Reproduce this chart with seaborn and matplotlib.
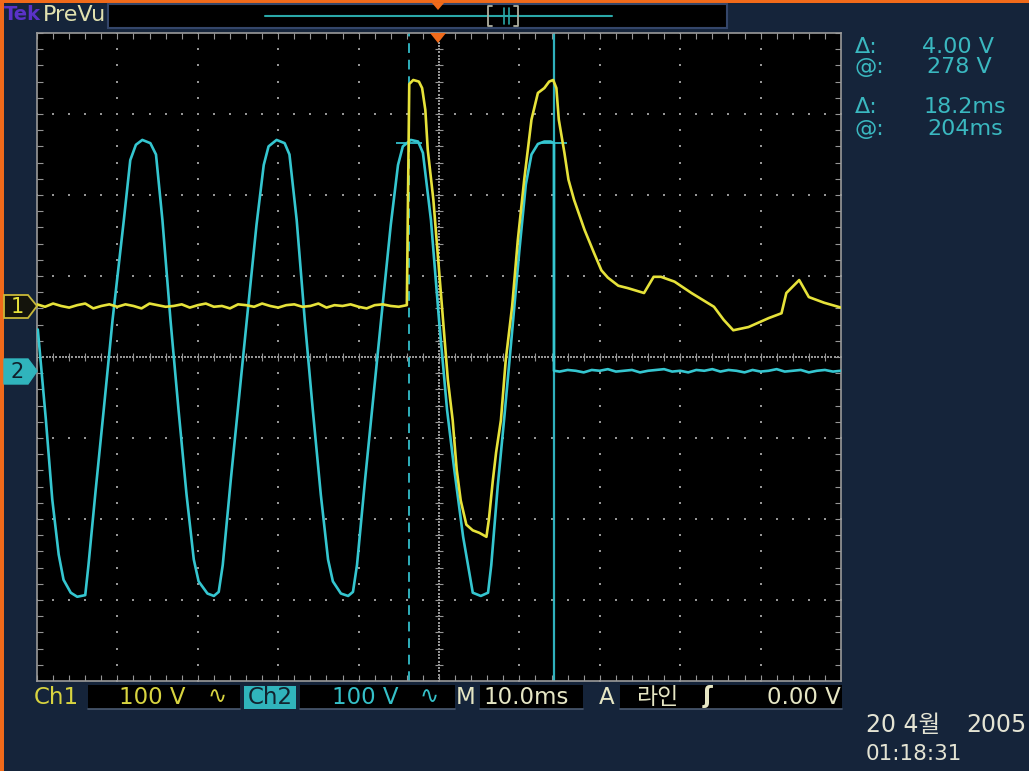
import numpy as np
import pandas as pd
import matplotlib
matplotlib.use("Agg")
import matplotlib.pyplot as plt
import seaborn as sns
from matplotlib.patches import Polygon, Rectangle

# ---------------- data (time in ms, trigger at 0; voltage in V) ----------------
ch1_flat_t = [-50, -49, -48, -47, -46, -45, -44, -43, -42, -41, -40, -39, -38, -37, -36, -35,
              -34, -33, -32, -31, -30, -29, -28, -27, -26, -25, -24, -23, -22, -21, -20, -19,
              -18, -17, -16, -15, -14, -13, -12, -11, -10, -9, -8, -7, -6, -5, -4]
ch1_flat_v = [2, -1, 3, 0, -2, 1, 3, -3, 0, 2, -1, 2, 0, -3, 3, 1, -1, 0, 2, -2, 1, 3, -1, 0,
              -3, 2, 1, -1, 3, 0, -2, 1, 2, -1, 0, 3, -2, 1, 0, 2, -1, -3, 1, 2, 0, -1, 1]
ch1_t = [-3.7, -3.2, -2.5, -2.1, -1.7, -1.4, -0.7, -0.1, 0.5, 1.1, 1.7, 2.2, 2.7, 3.4, 4.2,
         5.0, 5.9, 6.2, 6.7, 7.1, 7.7, 8.3, 9.1, 9.8, 10.6, 11.5, 12.3, 13.1, 13.7, 14.2, 14.6,
         14.9, 15.6, 16.1, 16.8, 18.1, 19.3, 20.2, 21.0, 22.3, 23.5, 25.5, 26.7, 27.6, 29.3,
         31.4, 34.2, 35.4, 36.6, 38.5, 41.0, 42.6, 43.2, 44.8, 46.0, 47.9, 50.0]
ch1_v = [274, 279, 277, 269, 242, 193, 131, 57, -17, -91, -141, -202, -240, -270, -277,
         -280, -285, -264, -215, -181, -141, -67, 0, 81, 156, 230, 263, 269, 277, 279, 269,
         230, 189, 156, 131, 94, 65, 44, 35, 25, 22, 16, 36, 36, 30,
         16, -1, -17, -30, -26, -15, -9, 16, 32, 11, 4, -2]

ch2_t = [-49.9, -48.9, -48.1, -47.3, -46.7, -45.8, -45.0, -44.0, -43.6, -42.7, -41.7, -40.6,
         -39.2, -38.4, -37.7, -36.9, -35.9, -35.2, -34.4, -33.4, -32.4, -31.4, -30.5, -29.9,
         -28.8, -28.0, -27.4, -26.9, -25.9, -24.9, -23.9, -22.7, -21.8, -21.2, -20.2, -19.2,
         -18.6, -17.7, -16.7, -15.7, -14.7, -13.8, -13.2, -12.2, -11.3, -10.7, -10.2, -9.2,
         -8.2, -7.2, -6.0, -5.1, -4.5, -3.5, -2.6, -2.0, -1.0, 0.0, 1.0, 1.9, 3.0, 4.2, 5.2,
         6.1, 6.5, 7.3, 8.1, 9.0, 10.0, 10.8, 11.5, 12.3, 13.1, 13.9, 14.3, 14.3]
ch2_v = [51, -60, -159, -227, -258, -274, -279, -277, -240, -147, -48, 63,
         186, 260, 279, 285, 281, 267, 186, 63, -48, -153, -233, -260,
         -275, -278, -273, -240, -135, -36, 63, 180, 254, 277, 285, 281,
         267, 186, 63, -48, -153, -233, -260, -275, -278, -273, -240, -135,
         -36, 63, 180, 254, 277, 285, 283, 269, 186, 63, -48, -122, -205, -274, -278,
         -274, -240, -143, -60, 38, 149, 230, 267, 280, 283, 283, 281, 0]
ch2_tail_t = [15, 16, 17, 18, 19, 20, 21, 22, 23, 24, 25, 26, 27, 28, 29, 30, 31, 32, 33, 34,
              35, 36, 37, 38, 39, 40, 41, 42, 43, 44, 45, 46, 47, 48, 49, 50]
ch2_tail_v = [-1, 1, 0, -2, 1, 0, 2, -1, 0, 1, -2, 0, 1, 2, -1, 0, -2, 1, 0, 2, -1, 1, 0, -2,
              1, -1, 0, 2, -1, 0, 1, -2, 0, 1, -1, 0]

cursor_t = [-3.7, 14.3]
cursor_level_v = 281
readout_labels = ["Δ:", "@:", "Δ:", "@:"]
readout_values = ["4.00 V", "278 V", "18.2ms", "204ms"]

VOLTS_PER_DIV = 100.0
MS_PER_DIV = 10.0
CH1_POS = 0.63    # divisions
CH2_POS = -0.17

# ---------------- style ----------------
BG = "#15243a"
ORANGE = "#f06a1a"
YEL = "#e6e23a"
CYA = "#35c6d0"
CUR = "#2fb0bc"
GRID = "#959595"
CREAM = "#e6e6c4"

W, H = 1029, 771
def fx(x): return x / W
def fy(y): return 1 - y / H

fig = plt.figure(figsize=(W / 100, H / 100), dpi=100, facecolor=BG)
sns.set_style("dark")
plt.rcParams["font.family"] = ["DejaVu Sans", "Noto Sans CJK KR"]
fig.set_facecolor(BG)

L, R, T, B = 37, 841, 33, 681
ax = fig.add_axes([fx(L), fy(B), (R - L) / W, (B - T) / H])
ax.set_facecolor("black")
ax.set_xlim(-50, 50)
ax.set_ylim(-4, 4)
ax.set_xticks([]); ax.set_yticks([])
for s in ax.spines.values():
    s.set_color("#9a9a9a"); s.set_linewidth(1.2)
ax.grid(False)

# graticule
ymin_steps = np.arange(-4, 4.001, 0.2)
xmin_steps = np.arange(-50, 50.001, 2.0)
for gx in range(-40, 41, 10):
    if gx == 0:
        continue
    ax.scatter(np.full_like(ymin_steps, gx), ymin_steps, s=2.8, c=GRID, marker="s", lw=0, zorder=1)
for gy in [-3, -2, -1, 1, 2, 3]:
    ax.scatter(xmin_steps, np.full_like(xmin_steps, gy), s=2.8, c=GRID, marker="s", lw=0, zorder=1)
dense_x = np.arange(-50, 50.001, 0.4)
dense_y = np.arange(-4, 4.001, 0.04)
ax.scatter(dense_x, np.zeros_like(dense_x), s=1.0, c=GRID, marker="s", lw=0, zorder=1)
ax.scatter(np.zeros_like(dense_y), dense_y, s=1.0, c=GRID, marker="s", lw=0, zorder=1)
ax.vlines(xmin_steps, -0.05, 0.05, color=GRID, lw=0.8, zorder=1)
ax.hlines(ymin_steps, -0.5, 0.5, color=GRID, lw=0.8, zorder=1)
# edge ticks
ax.vlines(xmin_steps, 3.92, 4, color=GRID, lw=0.8, zorder=1)
ax.vlines(xmin_steps, -4, -3.92, color=GRID, lw=0.8, zorder=1)
ax.hlines(ymin_steps, -50, -49.3, color=GRID, lw=0.8, zorder=1)
ax.hlines(ymin_steps, 49.3, 50, color=GRID, lw=0.8, zorder=1)

# cursors
ax.axvline(cursor_t[0], color=CUR, lw=1.4, ls=(0, (5, 3.5)), zorder=2)
ax.axvline(cursor_t[1], color=CUR, lw=1.6, zorder=2)
lvl = cursor_level_v / VOLTS_PER_DIV + CH2_POS
for ct in cursor_t:
    ax.hlines(lvl, ct - 1.6, ct + 1.6, color=CUR, lw=1.4, zorder=2)

# traces
df2 = pd.DataFrame({"t": ch2_t + ch2_tail_t, "v": ch2_v + ch2_tail_v})
df2["y"] = df2["v"] / VOLTS_PER_DIV + CH2_POS
df1 = pd.DataFrame({"t": ch1_flat_t + ch1_t, "v": ch1_flat_v + ch1_v})
df1["y"] = df1["v"] / VOLTS_PER_DIV + CH1_POS
sns.lineplot(data=df2, x="t", y="y", sort=False, estimator=None, color=CYA, lw=1.9, ax=ax, zorder=3)
sns.lineplot(data=df1, x="t", y="y", sort=False, estimator=None, color=YEL, lw=1.9, ax=ax, zorder=4)
ax.set_xlabel(""); ax.set_ylabel("")
ax.set_xlim(-50, 50); ax.set_ylim(-4, 4)

# ---------------- figure decorations ----------------
def poly(pts, **kw):
    fig.patches.append(Polygon([(fx(x), fy(y)) for x, y in pts], closed=True,
                               transform=fig.transFigure, **kw))
def rect(x0, y0, x1, y1, **kw):
    fig.patches.append(Rectangle((fx(x0), fy(y1)), (x1 - x0) / W, (y1 - y0) / H,
                                 transform=fig.transFigure, **kw))

# orange frame strips
rect(0, 0, W, 3, facecolor=ORANGE, edgecolor="none")
rect(0, 0, 4, H, facecolor=ORANGE, edgecolor="none")

# top bar
rect(108, 4, 727, 28, facecolor="black", edgecolor="#34466a", lw=1.5)
fig.text(fx(4), fy(15), "Tek", color="#5a32c8", fontsize=14, fontweight="bold", va="center")
fig.text(fx(43), fy(15), "PreVu", color="#e2e2b0", fontsize=16, va="center")
fig.lines.append(plt.Line2D([fx(265), fx(612)], [fy(16), fy(16)], transform=fig.transFigure,
                            color="#2aa8a8", lw=1.5))
fig.lines.append(plt.Line2D([fx(492), fx(488), fx(488), fx(492)], [fy(6), fy(6), fy(26), fy(26)],
                            transform=fig.transFigure, color="#b0b0a0", lw=1.3))
fig.lines.append(plt.Line2D([fx(514), fx(518), fx(518), fx(514)], [fy(6), fy(6), fy(26), fy(26)],
                            transform=fig.transFigure, color="#b0b0a0", lw=1.3))
for xx in (504, 509):
    fig.lines.append(plt.Line2D([fx(xx), fx(xx)], [fy(8), fy(24)], transform=fig.transFigure,
                                color="#2aa8a8", lw=1.2))
poly([(432, 3), (444, 3), (438, 10)], facecolor=ORANGE, edgecolor="none")
poly([(430, 33), (446, 33), (438, 43)], facecolor=ORANGE, edgecolor="none", zorder=5)

# channel markers
poly([(4, 295), (28, 295), (37, 306), (28, 318), (4, 318)], facecolor="#14140c",
     edgecolor="#c8b838", lw=1.3)
fig.text(fx(17), fy(307), "1", color=YEL, fontsize=15, ha="center", va="center")
poly([(4, 359), (28, 359), (37, 371), (28, 384), (4, 384)], facecolor="#30b4bc",
     edgecolor="#30b4bc", lw=1)
fig.text(fx(17), fy(372), "2", color="#10202c", fontsize=15, ha="center", va="center")

# right readout panel
rows_y = [47, 67, 107, 129]
right_x = [994, 992, 1006, 1003]
for lab, val, yy, rx in zip(readout_labels, readout_values, rows_y, right_x):
    fig.text(fx(855), fy(yy), lab, color="#3ab8c0", fontsize=16, va="center")
    fig.text(fx(rx), fy(yy), val, color="#3ab8c0", fontsize=16, va="center", ha="right")

# bottom status bar
by0, by1 = 685, 709
for x0, x1 in [(88, 240), (300, 455), (480, 583), (620, 842)]:
    rect(x0, by0, x1, by1, facecolor="black", edgecolor="none")
    fig.lines.append(plt.Line2D([fx(x0), fx(x1)], [fy(by1), fy(by1)], transform=fig.transFigure,
                                color="#4a5a70", lw=1.2))
rect(244, by0 + 1, 296, by1, facecolor="#30b4bc", edgecolor="none")
ty = fy(697)
FS = 16.5
fig.text(fx(34), ty, "Ch1", color="#d8d440", fontsize=FS, va="center")
fig.text(fx(119), ty, "100 V", color="#d8d440", fontsize=FS, va="center")
fig.text(fx(208), ty, "∿", color="#d8d440", fontsize=FS, va="center")
fig.text(fx(270), ty, "Ch2", color="#12222e", fontsize=FS, va="center", ha="center")
fig.text(fx(332), ty, "100 V", color="#35c0c8", fontsize=FS, va="center")
fig.text(fx(420), ty, "∿", color="#35c0c8", fontsize=FS, va="center")
fig.text(fx(456), ty, "M", color=CREAM, fontsize=FS, va="center")
fig.text(fx(483), ty, "10.0ms", color=CREAM, fontsize=FS, va="center")
fig.text(fx(599), ty, "A", color=CREAM, fontsize=FS, va="center")
fig.text(fx(636), ty, "라인", color=CREAM, fontsize=FS, va="center",
         family=["Noto Sans CJK KR", "DejaVu Sans"])
fig.text(fx(703), ty, "ʃ", color=CREAM, fontsize=FS, va="center", fontweight="bold")
fig.text(fx(841), ty, "0.00 V", color=CREAM, fontsize=FS, va="center", ha="right")

fig.text(fx(866), fy(725), "20 4월", color="#e4e4d4", fontsize=17, va="center",
         family=["DejaVu Sans", "Noto Sans CJK KR"])
fig.text(fx(1027), fy(725), "2005", color="#e4e4d4", fontsize=17, va="center", ha="right")
fig.text(fx(866), fy(754), "01:18:31", color="#e4e4d4", fontsize=15.5, va="center")

fig.savefig("out.png", dpi=100, facecolor=BG)
